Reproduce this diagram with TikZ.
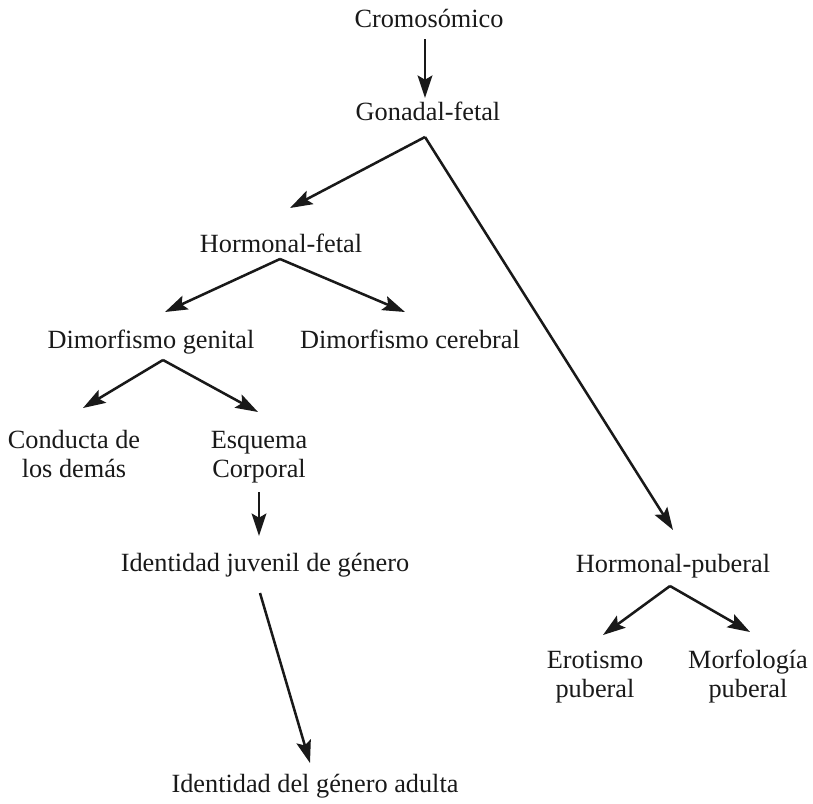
\documentclass[tikz,border=0pt]{standalone}
\usepackage{fontspec}
\setmainfont{Liberation Serif}
\usepackage{tikz}
\usetikzlibrary{positioning,arrows.meta}
\tikzset{
  lbl/.style={anchor=base, inner sep=0pt, align=center, text=black!90,
    font=\fontsize{18.7pt}{20.6pt}\selectfont},
  arr/.style={draw=black!90, line width=1.8pt,
    -{Stealth[length=16pt,width=10.5pt,inset=3pt]}},
  chart/.style={x=0.025cm, y=-0.025cm}
}

\begin{document}
\begin{tikzpicture}[chart]
  \useasboundingbox (0,0) rectangle (813,803);

  % Upper chain
  \node[lbl] (crom) at (429,27) {Cromosómico};
  \node[lbl] (gonad) at (428,120) {Gonadal-fetal};
  \node[lbl] (hfet) at (281,252) {Hormonal-fetal};

  % Second level
  \node[lbl] (dgen) at (151,348) {Dimorfismo genital};
  \node[lbl] (dcer) at (410,348) {Dimorfismo cerebral};

  % Third level (base = last line)
  \node[lbl] (cond) at (74,477) {Conducta de\\los demás};
  \node[lbl] (esq) at (259,477) {Esquema\\Corporal};

  % Identity nodes
  \node[lbl] (idjuv) at (265,571) {Identidad juvenil de género};
  \node[lbl] (idad) at (315,792) {Identidad del género adulta};

  % Pubertal branch
  \node[lbl] (hpub) at (673,572) {Hormonal-puberal};
  \node[lbl] (erot) at (595,697) {Erotismo\\puberal};
  \node[lbl] (morf) at (748,697) {Morfología\\puberal};

  % Arrows
  \draw[arr] ([shift={(-4,12)}]crom.base) -- ([shift={(-3,-22)}]gonad.base);
  \draw[arr] ([shift={(-3,17)}]gonad.base) -- ([shift={(9,-44)}]hfet.base);
  \draw[arr] ([shift={(-3,17)}]gonad.base) -- ([shift={(0,-42)}]hpub.base);
  \draw[arr] ([shift={(-1,7)}]hfet.base) -- ([shift={(14,-36)}]dgen.base);
  \draw[arr] ([shift={(-1,7)}]hfet.base) -- ([shift={(-5,-36)}]dcer.base);
  \draw[arr] ([shift={(12,12)}]dgen.base) -- ([shift={(9,-69)}]cond.base);
  \draw[arr] ([shift={(12,12)}]dgen.base) -- ([shift={(-1,-65)}]esq.base);
  \draw[arr] ([shift={(0,15)}]esq.base) -- ([shift={(-6,-35)}]idjuv.base);
  \draw[arr] ([shift={(-5,22)}]idjuv.base) -- ([shift={(-5,-29)}]idad.base);
  \draw[arr] ([shift={(-3,14)}]hpub.base) -- ([shift={(8,-62)}]erot.base);
  \draw[arr] ([shift={(-3,14)}]hpub.base) -- ([shift={(2,-65)}]morf.base);
\end{tikzpicture}
\end{document}
